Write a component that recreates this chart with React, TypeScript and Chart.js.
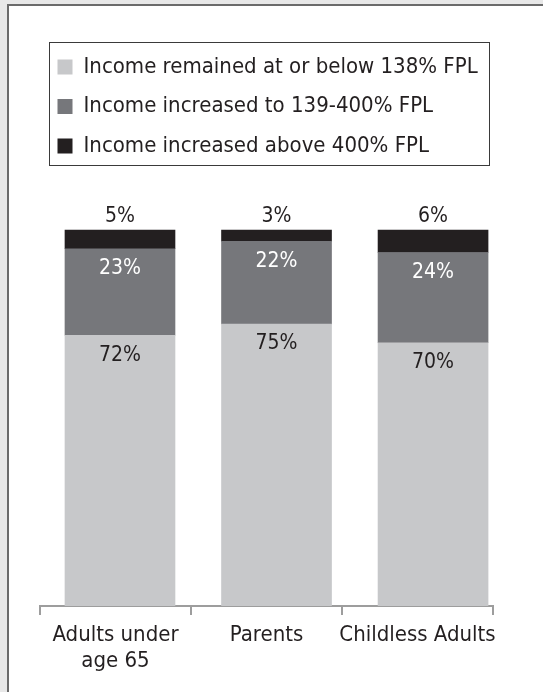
import React, { useEffect, useRef } from 'react';
import { Chart, registerables } from 'chart.js';

Chart.register(...registerables);

// ---- data ----
const categories: (string | string[])[] = [['Adults under', 'age 65'], 'Parents', 'Childless Adults'];
const seriesNames = [
  'Income remained at or below 138% FPL',
  'Income increased to 139-400% FPL',
  'Income increased above 400% FPL',
];
const remainedAtOrBelow138 = [72, 75, 70];
const increasedTo139to400 = [23, 22, 24];
const increasedAbove400 = [5, 3, 6];
const seriesValues = [remainedAtOrBelow138, increasedTo139to400, increasedAbove400];

// ---- styles ----
const seriesColors = ['#c7c8ca', '#76777b', '#231f20'];
const labelColors = ['#231f20', '#ffffff', '#231f20'];
const FONT = '"DejaVu Sans Condensed", "Liberation Sans Narrow", "Liberation Sans", sans-serif';
const TEXT = '#231f20';

const valueLabels = {
  id: 'valueLabels',
  afterDatasetsDraw(chart: any) {
    const ctx = chart.ctx;
    ctx.save();
    ctx.font = `21px ${FONT}`;
    ctx.textAlign = 'center';
    ctx.textBaseline = 'middle';
    chart.data.datasets.forEach((ds: any, di: number) => {
      const meta = chart.getDatasetMeta(di);
      meta.data.forEach((el: any, i: number) => {
        const v = ds.data[i].y;
        const { x, y } = el.getProps(['x', 'y'], true);
        ctx.fillStyle = labelColors[di];
        const ty = di === 2 ? y - 13 : y + 20;
        ctx.fillText(`${v}%`, x, ty);
      });
    });
    ctx.restore();
  },
};

const legendFrame = {
  id: 'legendFrame',
  afterDraw(chart: any) {
    const lg = chart.legend;
    if (!lg || !lg.legendHitBoxes) return;
    const hb = lg.legendHitBoxes;
    const left = lg.left + 9;
    const right = Math.max(...hb.map((h: any) => h.left + h.width)) + 11;
    const top = lg.top + 3.5;
    const bottom = lg.bottom - 2;
    const ctx = chart.ctx;
    ctx.save();
    ctx.strokeStyle = '#3a3a3a';
    ctx.lineWidth = 1;
    ctx.strokeRect(Math.round(left) + 0.5, Math.round(top) + 0.5, Math.round(right - left), Math.round(bottom - top));
    ctx.restore();
  },
};

export default function App() {
  const ref = useRef<HTMLCanvasElement>(null);

  useEffect(() => {
    document.body.style.margin = '0';
    const canvas = ref.current;
    if (!canvas) return;
    const chart = new Chart(canvas, {
      type: 'bar',
      data: {
        labels: categories as any,
        datasets: seriesNames.map((name, si) => ({
          label: name,
          data: seriesValues[si].map((v, i) => ({ x: i, y: v })),
          backgroundColor: seriesColors[si],
          borderWidth: 0,
          xAxisID: 'xb',
          yAxisID: 'y',
          barThickness: 110,
        })),
      },
      options: {
        animation: false,
        responsive: false,
        devicePixelRatio: 1,
        layout: { padding: { left: 40, right: 50, top: 38.5, bottom: 11 } },
        plugins: {
          tooltip: { enabled: false },
          legend: {
            display: true,
            position: 'top',
            align: 'start',
            labels: {
              boxWidth: 15,
              boxHeight: 15,
              padding: 17.5,
              color: TEXT,
              font: { family: FONT, size: 22 },
            },
          },
        },
        scales: {
          xb: {
            type: 'linear',
            display: false,
            offset: false,
            min: -0.511,
            max: 2.383,
            stacked: true,
          },
          x: {
            type: 'category',
            labels: categories as any,
            position: 'bottom',
            offset: true,
            grid: {
              display: true,
              offset: true,
              drawOnChartArea: false,
              drawTicks: true,
              tickLength: 9,
              color: '#9d9d9d',
              lineWidth: 2,
            },
            border: { display: true, color: '#9d9d9d', width: 2 },
            ticks: {
              color: TEXT,
              font: { family: FONT, size: 22, lineHeight: 26 / 22 },
              padding: 7,
              maxRotation: 0,
              minRotation: 0,
              autoSkip: false,
            },
          },
          y: {
            type: 'linear',
            stacked: true,
            display: false,
            min: 0,
            max: 116.75,
          },
        },
      } as any,
      plugins: [valueLabels, legendFrame],
    });
    return () => chart.destroy();
  }, []);

  return (
    <div style={{ position: 'relative', width: 543, height: 692, background: '#e8e8e8', overflow: 'hidden' }}>
      <div
        style={{
          position: 'absolute',
          left: 7,
          top: 4,
          right: 0,
          bottom: 0,
          background: '#ffffff',
          borderLeft: '2px solid #6b6b6b',
          borderTop: '2px solid #6b6b6b',
        }}
      />
      <canvas ref={ref} width={543} height={692} style={{ position: 'absolute', left: 0, top: 0 }} />
    </div>
  );
}
